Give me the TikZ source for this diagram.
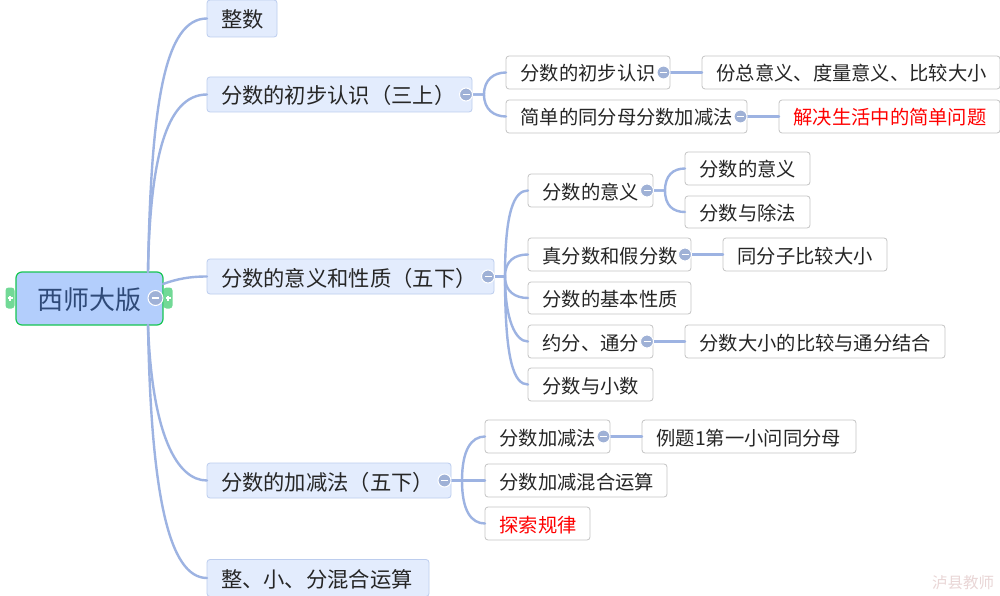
\documentclass[tikz,border=0pt]{standalone}
\usepackage{fontspec}
\setmainfont{Noto Sans CJK SC}
\definecolor{cable}{HTML}{9DB3E2}
\definecolor{knobfill}{HTML}{9FB1D6}
\definecolor{rootfill}{HTML}{B3CEFC}
\definecolor{rootline}{HTML}{17C653}
\definecolor{roottext}{HTML}{2F4A78}
\definecolor{tabfill}{HTML}{72D996}
\definecolor{mainfill}{HTML}{E3ECFD}
\definecolor{mainline}{HTML}{BCCDEE}
\definecolor{subline}{HTML}{C4C4C4}
\definecolor{wmark}{HTML}{E9D6D6}
\tikzset{
    rootbox/.style={draw=rootline, fill=rootfill, line width=1.2pt, rounded corners=6pt, outer sep=0pt,
        minimum width=147pt, minimum height=53pt, text height=24pt, text depth=2pt, text=roottext, font=\fontsize{26}{30}\selectfont},
    mainbox/.style={anchor=west, draw=mainline, fill=mainfill, line width=0.8pt, rounded corners=3pt, outer sep=0pt,
        inner xsep=14pt, inner ysep=0pt, minimum height=35pt, align=left, text height=22pt, text depth=3pt,
        text=black!85, font=\fontsize{21.3}{24}\selectfont},
    subbox/.style={anchor=west, draw=subline, fill=white, line width=0.8pt, rounded corners=3pt, outer sep=0pt,
        inner xsep=14.5pt, inner ysep=0pt, minimum height=33pt, align=left, text height=20pt, text depth=3pt,
        text=black!85, font=\fontsize{19.3}{22}\selectfont},
    wire/.style={draw=cable, line width=2.4pt, line cap=round},
    knob/.style={circle, draw=white, line width=1pt, fill=knobfill, minimum size=13pt, inner sep=0pt,
        path picture={\draw[white, line width=1.5pt] (path picture bounding box.center) +(-3.5,0) -- +(3.5,0);}},
    tabnode/.style={draw=none, fill=tabfill, rounded corners=3pt, minimum width=9pt, minimum height=21pt, inner sep=0pt,
        path picture={\draw[white, line width=1.2pt] (path picture bounding box.center) +(-2.5,0) -- +(2.5,0) +(0,-2.5) -- +(0,2.5);}},
}
\begin{document}
\begin{tikzpicture}[x=1pt, y=-1pt]
    \path[use as bounding box, fill=white] (0,0) rectangle (1000,596);
    % tabs behind the root
    \node[tabnode] (tabL) at (10,298) {};
    \node[tabnode] (tabR) at (168,298) {};
    \node[rootbox] (root) at (89.5,298.5) {西师大版};
    \coordinate (rootN) at (148,272);
    \coordinate (rootE) at (163,284);
    \coordinate (rootS) at (148,325);
    % first level
    \node[mainbox, text width=42pt, minimum height=37pt] (whole) at (207,18.5) {整数};
    \node[mainbox, text width=237pt] (first) at (207,94.5) {分数的初步认识（三上）};
    \node[mainbox, text width=259pt] (meaning) at (207,276.5) {分数的意义和性质（五下）};
    \node[mainbox, text width=216pt] (addsub) at (207,480.5) {分数的加减法（五下）};
    \node[mainbox, text width=194pt, minimum height=37pt] (mixed) at (207,578) {整、小、分混合运算};
    % first branch
    \node[subbox, text width=135pt] (firstA) at (506,72.5) {分数的初步认识};
    \node[subbox, text width=212pt] (firstB) at (506,116.5) {简单的同分母分数加减法};
    \node[subbox, text width=269pt] (firstAA) at (702,72.5) {份总意义、度量意义、比较大小};
    \node[subbox, text width=192pt, text=red] (firstBA) at (779,116.5) {解决生活中的简单问题};
    % second branch
    \node[subbox, text width=96pt] (meanA) at (528,190.5) {分数的意义};
    \node[subbox, text width=134pt] (meanB) at (528,254.5) {真分数和假分数};
    \node[subbox, text width=134pt, minimum height=32pt] (meanC) at (528,298) {分数的基本性质};
    \node[subbox, text width=96pt] (meanD) at (528,341.5) {约分、通分};
    \node[subbox, text width=96pt] (meanE) at (528,384.5) {分数与小数};
    \node[subbox, text width=96pt] (meanAA) at (685,168.5) {分数的意义};
    \node[subbox, text width=96pt, minimum height=32pt] (meanAB) at (685,212) {分数与除法};
    \node[subbox, text width=135pt] (meanBA) at (723,254.5) {同分子比较大小};
    \node[subbox, text width=231pt] (meanDA) at (685,341.5) {分数大小的比较与通分结合};
    % third branch
    \node[subbox, text width=96pt] (addA) at (485,436.5) {分数加减法};
    \node[subbox, text width=153pt] (addB) at (485,480.5) {分数加减混合运算};
    \node[subbox, text width=76pt, text=red] (addC) at (485,523.5) {探索规律};
    \node[subbox, text width=185pt] (addAA) at (642,436.5) {例题1第一小问同分母};
    % wires from the root
    \draw[wire] (rootN) .. controls +(3,-170) and +(-42,0) .. (whole.west);
    \draw[wire] (rootN) .. controls +(2,-110) and +(-42,0) .. (first.west);
    \draw[wire] (rootE) .. controls +(14,-5) and +(-18,0) .. (meaning.west);
    \draw[wire] (rootS) .. controls +(4,110) and +(-30,0) .. (addsub.west);
    \draw[wire] (rootS) .. controls +(3,170) and +(-38,0) .. (mixed.west);
    % wires of the branches
    \draw[wire] (first.east) -- ++(12,0) .. controls +(0,-15) and +(-12,0) .. (firstA.west);
    \draw[wire] (first.east) -- ++(12,0) .. controls +(0,15) and +(-12,0) .. (firstB.west);
    \draw[wire] (firstA.east) -- (firstAA.west);
    \draw[wire] (firstB.east) -- (firstBA.west);
    \draw[wire] (meaning.east) -- ++(11,0) .. controls +(0,-65) and +(-14,0) .. (meanA.west);
    \draw[wire] (meaning.east) -- ++(11,0) .. controls +(0,-16) and +(-13,0) .. (meanB.west);
    \draw[wire] (meaning.east) -- ++(11,0) .. controls +(0,15) and +(-13,0) .. (meanC.west);
    \draw[wire] (meaning.east) -- ++(11,0) .. controls +(0,42) and +(-13,0) .. (meanD.west);
    \draw[wire] (meaning.east) -- ++(11,0) .. controls +(0,85) and +(-14,0) .. (meanE.west);
    \draw[wire] (meanA.east) -- ++(12,0) .. controls +(0,-15) and +(-12,0) .. (meanAA.west);
    \draw[wire] (meanA.east) -- ++(12,0) .. controls +(0,15) and +(-12,0) .. (meanAB.west);
    \draw[wire] (meanB.east) -- (meanBA.west);
    \draw[wire] (meanD.east) -- (meanDA.west);
    \draw[wire] (addsub.east) -- ++(11,0) .. controls +(0,-30) and +(-14,0) .. (addA.west);
    \draw[wire] (addsub.east) -- (addB.west);
    \draw[wire] (addsub.east) -- ++(11,0) .. controls +(0,30) and +(-14,0) .. (addC.west);
    \draw[wire] (addA.east) -- (addAA.west);
    % collapse knobs
    \node[knob, minimum size=15pt] (knobRoot) at (155.5,298) {};
    \node[knob] (knobFirst) at (466,94.5) {};
    \node[knob] (knobMeaning) at (488,276.5) {};
    \node[knob] (knobAddsub) at (444.5,480.5) {};
    \node[knob] (knobFirstA) at (663.5,72.5) {};
    \node[knob] (knobFirstB) at (740.5,116.5) {};
    \node[knob] (knobMeanA) at (647,190.5) {};
    \node[knob] (knobMeanB) at (685,254.5) {};
    \node[knob] (knobMeanD) at (647,341.5) {};
    \node[knob] (knobAddA) at (603.5,436.5) {};
    % watermark
    \node[text=wmark, font=\fontsize{15.5}{18}\selectfont, inner sep=0pt] (wm) at (963,583) {泸县教师};
\end{tikzpicture}
\end{document}
